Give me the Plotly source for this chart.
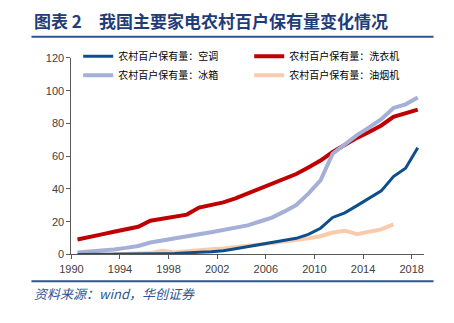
import plotly.graph_objects as go

years = list(range(1990, 2019))

# 农村居民每百户耐用消费品拥有量（台）
aircon = [0.0, 0.0, 0.0, 0.0, 0.0, 0.18, 0.3, 0.41, 0.55, 0.74, 1.32, 1.7, 2.29, 3.45,
          4.7, 6.4, 7.28, 8.54, 9.82, 12.23, 16.0, 22.58, 25.36, 29.8, 34.2, 38.8,
          47.6, 52.6, 65.2]
washer = [9.12, 10.99, 12.23, 13.85, 15.3, 16.9, 20.54, 21.87, 22.81, 24.32, 28.58,
          29.92, 31.8, 34.27, 37.32, 40.2, 42.98, 45.94, 49.11, 53.14, 57.32, 62.57,
          67.22, 71.2, 74.8, 78.8, 84.0, 86.3, 88.5]
fridge = [1.22, 1.64, 2.17, 3.05, 4.0, 5.15, 7.27, 8.49, 9.25, 10.64, 12.31, 13.59,
          14.83, 15.89, 17.75, 20.1, 22.48, 26.12, 30.19, 37.11, 45.19, 61.54, 67.32,
          72.9, 77.6, 82.6, 89.5, 91.7, 95.9]
hood_years = list(range(1993, 2017))
hood = [0.1, 0.2, 0.3, 0.8, 2.2, 1.2, 2.0, 2.75, 3.2, 3.6, 4.2, 4.9, 6.0, 6.9, 7.8,
        8.5, 9.8, 11.1, 13.4, 14.5, 12.3, 13.9, 15.3, 18.4]

x_ticks = list(range(1990, 2019, 4))
y_ticks = list(range(0, 121, 20))

# 类别居中：每个年份点画在该年区间的中部
def centers(ys):
    return [y + 0.5 for y in ys]

W, H = 454, 323
BLUE_TXT = "#2f5597"
TITLE_FONT = dict(family="Noto Sans CJK SC", size=17, color="#1f3d7a")

fig = go.Figure()
series = [
    ("农村百户保有量：油烟机", hood_years, hood, "#f9cbac", 4, 4),
    ("农村百户保有量：洗衣机", years, washer, "#c00000", 4, 2),
    ("农村百户保有量：冰箱", years, fridge, "#a5b0d8", 4, 3),
    ("农村百户保有量：空调", years, aircon, "#0d4f8b", 3, 1),
]
for name, xs, ys, color, width, rank in series:
    fig.add_trace(go.Scatter(
        x=centers(xs), y=ys, name=name, mode="lines",
        line=dict(color=color, width=width),
        legendrank=rank,
    ))

x0, x1 = 61, 423
y0, y1 = 258, 54
fig.update_layout(
    width=W, height=H,
    margin=dict(l=0, r=0, t=0, b=0),
    paper_bgcolor="white", plot_bgcolor="white",
    showlegend=True,
    legend=dict(
        orientation="h", x=68 / W, y=1 - 37 / H, xanchor="left", yanchor="top",
        entrywidth=126, entrywidthmode="pixels", tracegroupgap=0,
        font=dict(family="Noto Sans CJK SC", size=10, color="#000000"),
        bgcolor="rgba(0,0,0,0)", itemwidth=30,
    ),
    xaxis=dict(
        domain=[x0 / W, x1 / W], range=[1990, 2019],
        tickvals=x_ticks, ticktext=[str(v) for v in x_ticks],
        showgrid=False, zeroline=False,
        showline=True, linecolor="#595959", linewidth=1,
        ticks="outside", ticklen=4, tickcolor="#595959",
        tickfont=dict(family="Liberation Sans", size=11, color="#404040"),
    ),
    yaxis=dict(
        domain=[1 - y0 / H, 1 - y1 / H], range=[0, 120],
        tickvals=y_ticks,
        showgrid=False, zeroline=False,
        showline=True, linecolor="#595959", linewidth=1,
        ticks="outside", ticklen=4, tickcolor="#595959",
        tickfont=dict(family="Liberation Sans", size=11, color="#404040"),
    ),
    shapes=[
        dict(type="line", xref="paper", yref="paper",
             x0=20 / W, x1=433 / W, y0=1 - 32 / H, y1=1 - 32 / H,
             line=dict(color=BLUE_TXT, width=2)),
        dict(type="line", xref="paper", yref="paper",
             x0=20 / W, x1=433 / W, y0=1 - 286 / H, y1=1 - 286 / H,
             line=dict(color=BLUE_TXT, width=2)),
    ],
    annotations=[
        dict(text="<b>图表 2</b>",
             xref="paper", yref="paper", x=21 / W, y=1 - 15 / H,
             xanchor="left", yanchor="middle", showarrow=False, font=TITLE_FONT),
        dict(text="<b>我国主要家电农村百户保有量变化情况</b>",
             xref="paper", yref="paper", x=87 / W, y=1 - 15 / H,
             xanchor="left", yanchor="middle", showarrow=False, font=TITLE_FONT),
        dict(text="<i>资料来源：wind，华创证券</i>",
             xref="paper", yref="paper", x=21 / W, y=1 - 299 / H,
             xanchor="left", yanchor="middle", showarrow=False,
             font=dict(family="Noto Sans CJK SC", size=13, color=BLUE_TXT)),
    ],
)

fig.write_html("out.html")
